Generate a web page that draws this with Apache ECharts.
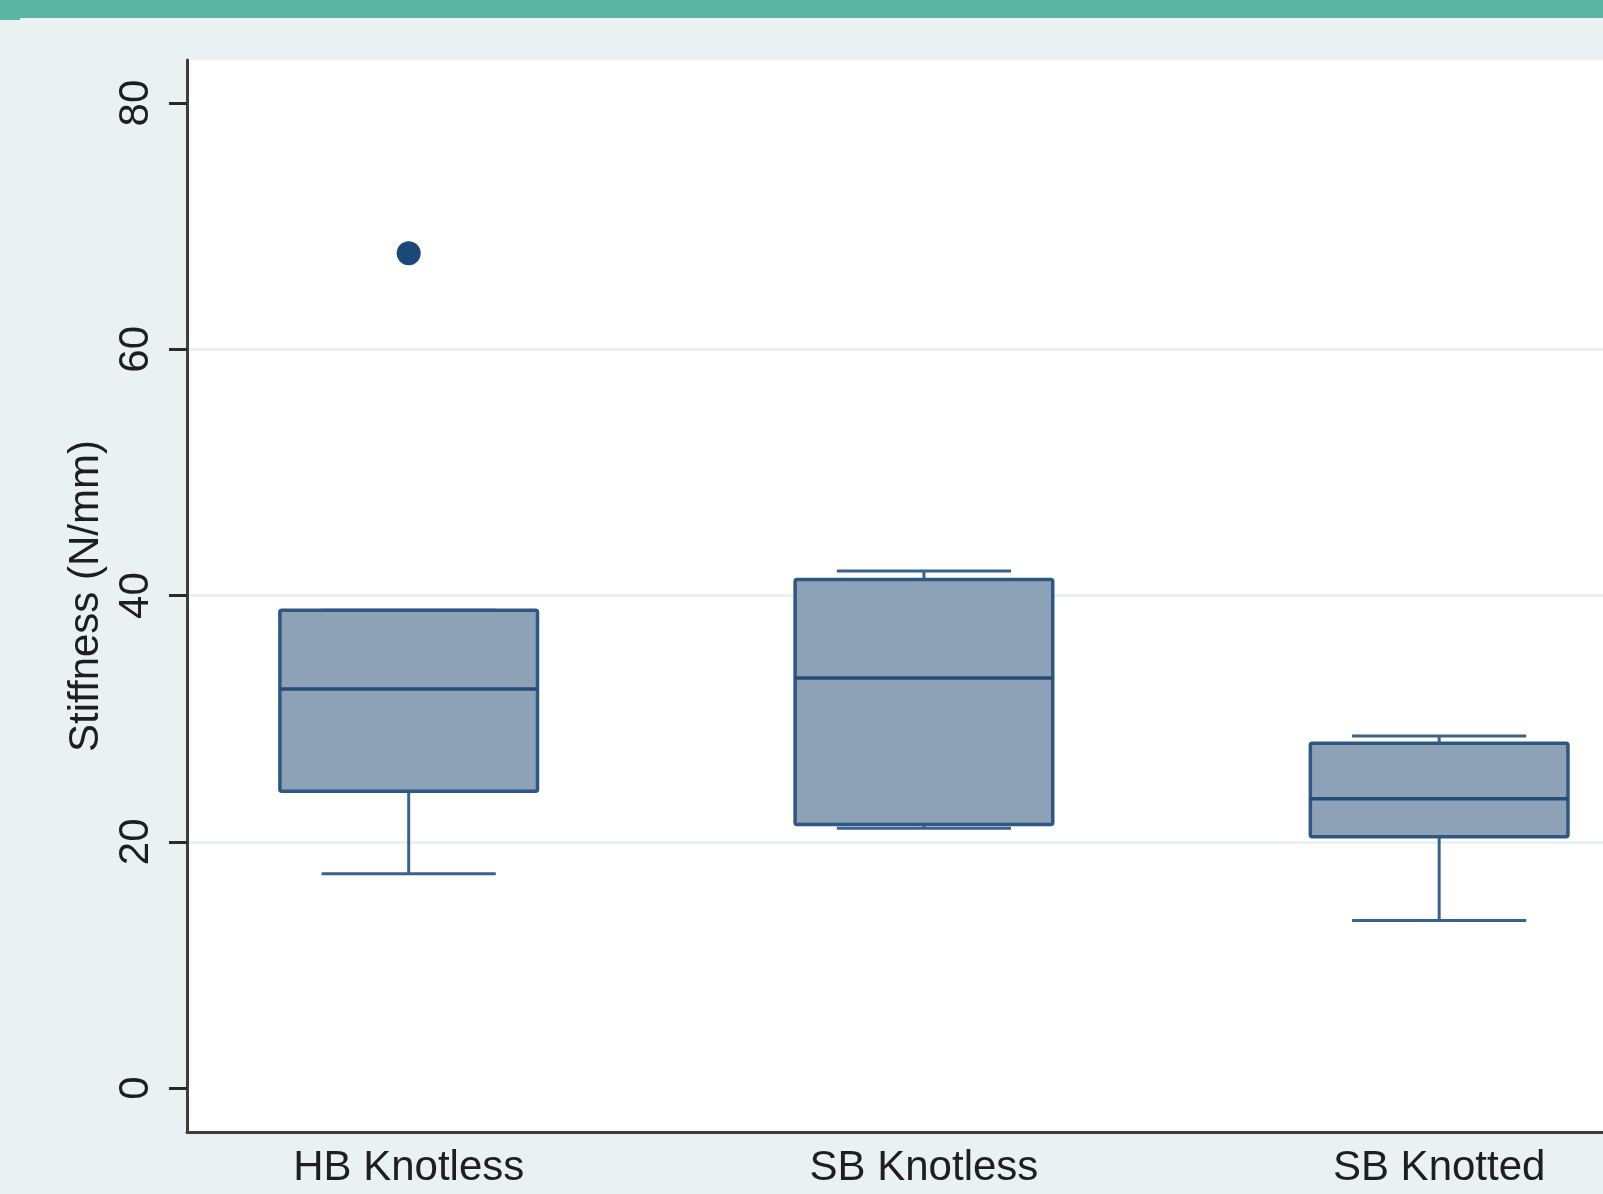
<!DOCTYPE html>
<html>
<head>
<meta charset="utf-8">
<script src="https://cdn.jsdelivr.net/npm/echarts@6/dist/echarts.min.js"></script>
<style>
  html, body { margin: 0; padding: 0; background: #e9f1f2; }
  #chart { width: 1603px; height: 1194px; }
</style>
</head>
<body>
<div id="chart"></div>
<script>
// ---- data ----
const categories = ['HB Knotless', 'SB Knotless', 'SB Knotted'];
const mins    = [17.4, 21.1, 13.6];
const q1s     = [24.1, 21.4, 20.4];
const medians = [32.4, 33.3, 23.5];
const q3s     = [38.8, 41.3, 28.0];
const maxs    = [38.8, 42.0, 28.6];
const outliers = [[0, 67.8]];
const yTicks = [0, 20, 40, 60, 80];
const yGrid = [20, 40, 60];

const boxData = categories.map((c, i) => [i, mins[i], q1s[i], medians[i], q3s[i], maxs[i]]);

const FONT = '"Liberation Sans", Arial, Helvetica, sans-serif';
const BOX_W = 0.5;   // in category units
const CAP_W = 0.338;

const chart = echarts.init(document.getElementById('chart'), null, { renderer: 'canvas' });

const option = {
  backgroundColor: '#e9f1f2',
  animation: false,
  graphic: [
    { type: 'rect', shape: { x: 0, y: 0, width: 1603, height: 18 }, style: { fill: '#5bb5a0' }, z: 100 },
    { type: 'rect', shape: { x: 0, y: 0, width: 20, height: 20 }, style: { fill: '#5bb5a0' }, z: 100 }
  ],
  grid: {
    left: 187, right: 0, top: 60, bottom: 62,
    show: true, backgroundColor: '#ffffff', borderWidth: 0
  },
  xAxis: {
    type: 'value',
    min: -0.4303, max: 2.318,
    axisLine: { show: true, onZero: false, lineStyle: { color: '#3d3d3d', width: 3 } },
    axisTick: { show: false },
    splitLine: { show: false },
    axisLabel: {
      customValues: [0, 1, 2],
      formatter: v => categories[Math.round(v)],
      fontFamily: FONT, fontSize: 42, color: '#1e1e1e', margin: 15
    }
  },
  yAxis: [
    {
      type: 'value',
      min: -3.574, max: 83.5,
      name: 'Stiffness (N/mm)',
      nameLocation: 'middle',
      nameRotate: 90,
      nameGap: 77,
      nameTextStyle: { fontFamily: FONT, fontSize: 42, color: '#1e1e1e' },
      axisLine: { show: true, onZero: false, lineStyle: { color: '#3d3d3d', width: 3 } },
      axisTick: { show: true, length: 18, customValues: yTicks, lineStyle: { color: '#2a2a2a', width: 3 } },
      axisLabel: {
        customValues: yTicks,
        rotate: 90,
        fontFamily: FONT, fontSize: 42, color: '#1e1e1e', margin: 30
      },
      splitLine: { show: false }
    },
    {
      type: 'value',
      min: -3.574, max: 83.5,
      position: 'left',
      axisLine: { show: false },
      axisTick: { show: false, customValues: yGrid },
      axisLabel: { show: false, customValues: yGrid },
      splitLine: { show: true, lineStyle: { color: '#e9f1f2', width: 3 } }
    }
  ],
  series: [
    {
      type: 'custom',
      data: boxData,
      encode: { x: 0, y: [1, 2, 3, 4, 5] },
      z: 3,
      renderItem: function (params, api) {
        const x = api.value(0);
        const pMin = api.coord([x, api.value(1)]);
        const pQ1 = api.coord([x, api.value(2)]);
        const pMed = api.coord([x, api.value(3)]);
        const pQ3 = api.coord([x, api.value(4)]);
        const pMax = api.coord([x, api.value(5)]);
        const bw = api.size([BOX_W, 0])[0];
        const cw = api.size([CAP_W, 0])[0];
        const cx = pMed[0];
        const lineStyle = { stroke: '#3a628c', lineWidth: 3, fill: null };
        return {
          type: 'group',
          children: [
            { type: 'line', shape: { x1: cx, y1: pQ3[1], x2: cx, y2: pMax[1] }, style: lineStyle },
            { type: 'line', shape: { x1: cx, y1: pQ1[1], x2: cx, y2: pMin[1] }, style: lineStyle },
            { type: 'line', shape: { x1: cx - cw / 2, y1: pMax[1], x2: cx + cw / 2, y2: pMax[1] }, style: lineStyle },
            { type: 'line', shape: { x1: cx - cw / 2, y1: pMin[1], x2: cx + cw / 2, y2: pMin[1] }, style: lineStyle },
            {
              type: 'rect',
              shape: { x: cx - bw / 2, y: pQ3[1], width: bw, height: pQ1[1] - pQ3[1], r: 2 },
              style: { fill: '#8da2b7', stroke: '#2e5782', lineWidth: 3.5 }
            },
            { type: 'line', shape: { x1: cx - bw / 2, y1: pMed[1], x2: cx + bw / 2, y2: pMed[1] }, style: { stroke: '#244c77', lineWidth: 3.5 } }
          ]
        };
      }
    },
    {
      type: 'scatter',
      data: outliers,
      symbol: 'circle',
      symbolSize: 24,
      itemStyle: { color: '#1a4877', opacity: 1 },
      z: 4
    }
  ]
};

chart.setOption(option);
</script>
</body>
</html>
